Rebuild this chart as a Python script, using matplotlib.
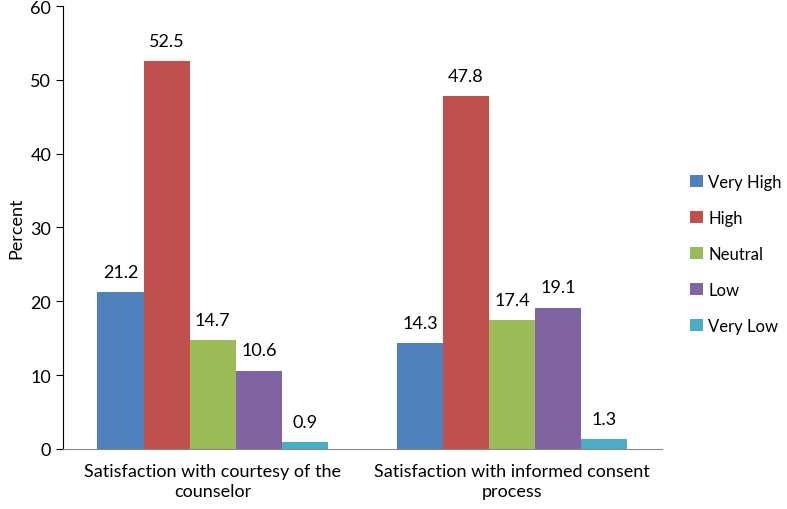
import numpy as np
import matplotlib.pyplot as plt

plt.rcParams['font.family'] = ['Lato', 'DejaVu Sans']

categories = ["Satisfaction with courtesy of the\ncounselor",
              "Satisfaction with informed consent\nprocess"]
levels = ["Very High", "High", "Neutral", "Low", "Very Low"]
values = {
    "Very High": [21.2, 14.3],
    "High": [52.5, 47.8],
    "Neutral": [14.7, 17.4],
    "Low": [10.6, 19.1],
    "Very Low": [0.9, 1.3],
}
colors = ["#4F81BD", "#C0504D", "#9BBB59", "#8064A2", "#4BACC6"]

fs = 13
fig = plt.figure(figsize=(7.87, 5.10), dpi=100)
ax = fig.add_axes([0.080, 0.118, 0.761, 0.868])

x = np.arange(len(categories))
width = 0.154
for i, (lvl, col) in enumerate(zip(levels, colors)):
    pos = x + (i - 2) * width
    bars = ax.bar(pos, values[lvl], width, color=col, label=lvl)
    for b, v in zip(bars, values[lvl]):
        ax.text(b.get_x() + b.get_width() / 2, v + 1.7, f"{v}",
                ha="center", va="bottom", fontsize=fs)

ax.set_xlim(-0.5, 1.5)
ax.set_ylim(0, 60)
ax.set_yticks(range(0, 61, 10))
ax.set_xticks(x)
ax.set_xticklabels(categories, fontsize=fs, linespacing=1.3)
ax.tick_params(axis="x", length=0, pad=10)
ax.tick_params(axis="y", labelsize=fs, length=5, direction="out")
ax.set_ylabel("Percent", fontsize=fs, labelpad=4)
ax.spines["top"].set_visible(False)
ax.spines["right"].set_visible(False)
ax.spines["bottom"].set_color("#888888")

fig.legend(loc="center left", bbox_to_anchor=(0.862, 0.5), frameon=False,
           fontsize=12, handlelength=0.75, handleheight=0.75, handletextpad=0.35,
           labelspacing=1.2, borderpad=0.2)

fig.savefig("out.png", dpi=100)
